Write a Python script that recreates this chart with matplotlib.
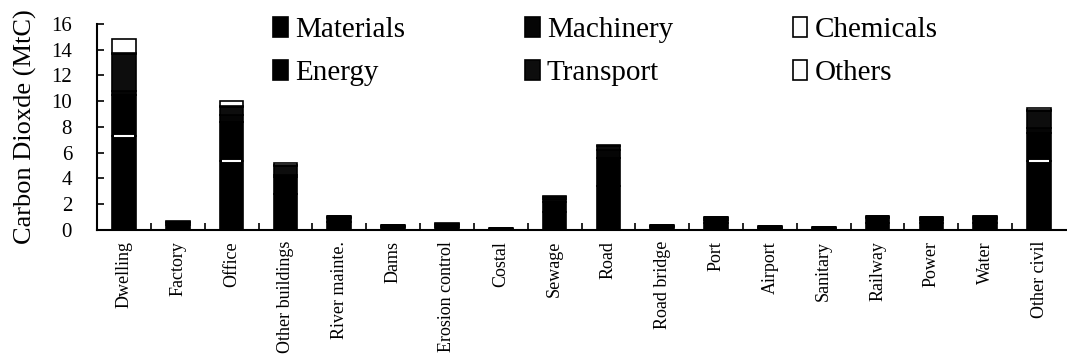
import matplotlib.pyplot as plt
import numpy as np

plt.rcParams['font.family'] = ['Liberation Serif', 'DejaVu Serif']

# Categories and emission components (MtC)
categories = ['Dwelling', 'Factory', 'Office', 'Other buildings', 'River mainte.',
              'Dams', 'Erosion control', 'Costal', 'Sewage', 'Road', 'Road bridge',
              'Port', 'Airport', 'Sanitary', 'Railway', 'Power', 'Water', 'Other civil']
materials = [7.3, 0.35, 5.35, 2.8, 0.6, 0.2, 0.25, 0.08, 1.4, 3.4, 0.2, 0.5, 0.15, 0.12, 0.55, 0.5, 0.55, 5.35]
energy = [3.2, 0.15, 3.0, 1.3, 0.3, 0.1, 0.1, 0.04, 0.8, 2.2, 0.1, 0.3, 0.08, 0.08, 0.35, 0.3, 0.3, 2.2]
machinery = [0.3, 0.05, 0.6, 0.2, 0.1, 0.05, 0.05, 0.01, 0.2, 0.6, 0.03, 0.1, 0.03, 0.02, 0.1, 0.1, 0.1, 0.4]
transport = [2.9, 0.05, 0.6, 0.7, 0.08, 0.04, 0.08, 0.01, 0.15, 0.3, 0.02, 0.08, 0.03, 0.02, 0.08, 0.08, 0.08, 1.3]
chemicals = [0.05, 0.02, 0.05, 0.05, 0.01, 0.0, 0.01, 0.0, 0.02, 0.05, 0.0, 0.01, 0.0, 0.0, 0.01, 0.01, 0.01, 0.05]
others = [1.05, 0.03, 0.4, 0.15, 0.02, 0.01, 0.01, 0.01, 0.03, 0.05, 0.0, 0.01, 0.01, 0.01, 0.01, 0.01, 0.01, 0.15]

series = [('Materials', materials, 'black'),
          ('Energy', energy, 'black'),
          ('Machinery', machinery, '#050505'),
          ('Transport', transport, '#0d0d0d'),
          ('Chemicals', chemicals, 'white'),
          ('Others', others, 'white')]

fig = plt.figure(figsize=(10.67, 3.58), dpi=100)
ax = fig.add_axes([0.091, 0.358, 0.908, 0.575])

x = np.arange(len(categories))
width = 0.44
bottom = np.zeros(len(categories))
for name, vals, color in series:
    vals = np.array(vals)
    ax.bar(x, vals, width, bottom=bottom, color=color, edgecolor='black',
           linewidth=1.2, label=name)
    bottom += vals

# thin white line at the top of the materials part on the tall bars
mat = np.array(materials)
big = mat >= 5
ax.hlines(mat[big], x[big] - width / 2 + 0.04, x[big] + width / 2 - 0.04,
          colors='white', linewidth=1.5)

ax.set_xlim(-0.5, len(categories) - 0.5)
ax.set_ylim(0, 16)
ax.set_yticks(range(0, 17, 2))
ax.set_xticks(x)
ax.set_xticklabels(categories, rotation=90, fontsize=13)
ax.set_xticks(x[:-1] + 0.5, minor=True)
ax.tick_params(axis='x', which='major', length=0, pad=8)
ax.tick_params(axis='x', which='minor', direction='in', length=5, width=1.2)
ax.tick_params(axis='y', direction='in', length=5, width=1.2, labelsize=15, pad=18)
ax.set_ylabel('Carbon Dioxde (MtC)', fontsize=19, labelpad=10)

for s in ['top', 'right']:
    ax.spines[s].set_visible(False)
for s in ['left', 'bottom']:
    ax.spines[s].set_linewidth(1.5)

ax.legend(ncol=3, loc='upper left', bbox_to_anchor=(0.17, 1.09), frameon=False,
          fontsize=21, handlelength=0.5, handleheight=0.65, handletextpad=0.25,
          columnspacing=4.1, labelspacing=0.58, borderaxespad=0)

plt.savefig('out.png', dpi=100)
plt.close()
